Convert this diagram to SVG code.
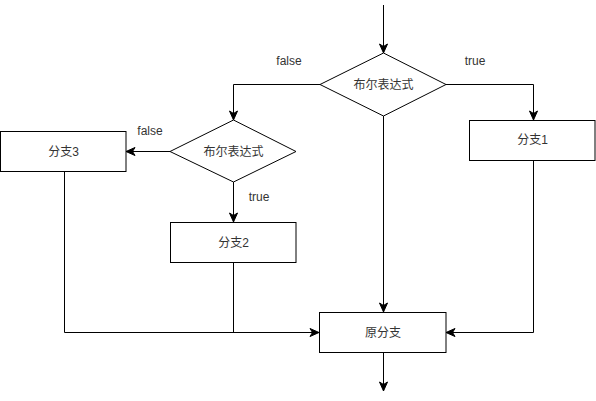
<svg xmlns="http://www.w3.org/2000/svg" width="596" height="401" viewBox="0 0 596 401">
<style>
.shape{fill:#fff;stroke:#000;stroke-width:1}
.edge{fill:none;stroke:#000;stroke-width:1}
.t{font-family:"Liberation Sans","Noto Sans CJK SC",sans-serif;font-size:12px;fill:#333;text-anchor:middle;dominant-baseline:central}
</style>
<defs>
<marker id="arr" viewBox="-1 -5 12 10" markerWidth="12" markerHeight="10" refX="9" refY="0" orient="auto" markerUnits="userSpaceOnUse">
<path d="M0,-4 L9,0 L0,4 L2.5,0 Z" fill="#000" stroke="#000" stroke-width="1"/>
</marker>
</defs>
<rect width="596" height="401" fill="#fff"/>
<g id="connectors">
<path class="edge" d="M383.5,5 L383.5,53" marker-end="url(#arr)"/>
<path class="edge" d="M320,84.5 L233.5,84.5 L233.5,120" marker-end="url(#arr)"/>
<path class="edge" d="M170,151.5 L126,151.5" marker-end="url(#arr)"/>
<path class="edge" d="M233.5,182 L233.5,222" marker-end="url(#arr)"/>
<path class="edge" d="M446,84.5 L533.5,84.5 L533.5,120" marker-end="url(#arr)"/>
<path class="edge" d="M383.5,116 L383.5,312" marker-end="url(#arr)"/>
<path class="edge" d="M383.5,352 L383.5,391" marker-end="url(#arr)"/>
<path class="edge" d="M64.5,171 L64.5,332.5 L319,332.5" marker-end="url(#arr)"/>
<path class="edge" d="M233.5,262 L233.5,332.5"/>
<path class="edge" d="M533.5,160 L533.5,332.5 L446,332.5" marker-end="url(#arr)"/>
<text class="t" x="289" y="61">false</text>
<text class="t" x="475" y="61">true</text>
<text class="t" x="150" y="131">false</text>
<text class="t" x="259" y="197">true</text>
</g>
<g id="cond1">
<polygon class="shape" points="383.5,53 446,84.5 383.5,116 320,84.5"/>
<text class="t" x="383.5" y="84.5">布尔表达式</text>
</g>
<g id="cond2">
<polygon class="shape" points="233.5,120 296,151.5 233.5,182 170,151.5"/>
<text class="t" x="233.5" y="151.5">布尔表达式</text>
</g>
<g id="branch3">
<rect class="shape" x="0.5" y="131.5" width="125.5" height="40"/>
<text class="t" x="63.5" y="151.5">分支3</text>
</g>
<g id="branch2">
<rect class="shape" x="170.5" y="222.5" width="125.5" height="40"/>
<text class="t" x="233.5" y="242.5">分支2</text>
</g>
<g id="branch1">
<rect class="shape" x="469.5" y="120.5" width="125.5" height="40"/>
<text class="t" x="532.5" y="140">分支1</text>
</g>
<g id="orig">
<rect class="shape" x="319.5" y="312.5" width="126.5" height="40"/>
<text class="t" x="383" y="332.5">原分支</text>
</g>
</svg>
